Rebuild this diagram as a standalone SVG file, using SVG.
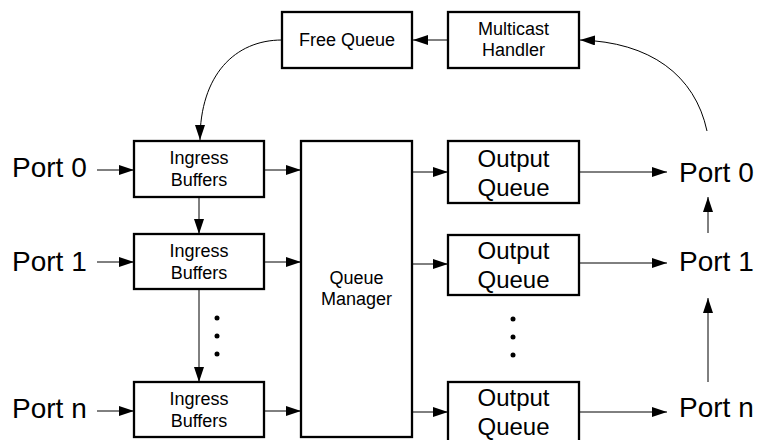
<svg xmlns="http://www.w3.org/2000/svg" width="759" height="440" viewBox="0 0 759 440">
<style>
.box{fill:#fff;stroke:#000;stroke-width:2.3}
.c{fill:none;stroke:#000;stroke-width:1}
text{font-family:"Liberation Sans",Arial,sans-serif;fill:#000}
.s{font-size:18px;text-anchor:middle}
.m{font-size:24px;text-anchor:middle}
.p{font-size:28px}
.dot{fill:#000}
</style>
<defs>
<marker id="ah" markerUnits="userSpaceOnUse" markerWidth="16" markerHeight="11" refX="15" refY="5" orient="auto">
<path d="M0,0 L15,5 L0,10 z" fill="#000"/>
</marker>
</defs>
<rect width="759" height="440" fill="#fff"/>
<g id="connectors">
<path class="c" d="M282,40 C235,40 200,75 200,140" marker-end="url(#ah)"/>
<path class="c" d="M448,40 L413,40" marker-end="url(#ah)"/>
<path class="c" d="M707,131 C695,75 650,42 580,40" marker-end="url(#ah)"/>
<path class="c" d="M97,170 L134,170" marker-end="url(#ah)"/>
<path class="c" d="M97,262 L134,262" marker-end="url(#ah)"/>
<path class="c" d="M97,411 L134,411" marker-end="url(#ah)"/>
<path class="c" d="M264,170 L301,170" marker-end="url(#ah)"/>
<path class="c" d="M264,262 L301,262" marker-end="url(#ah)"/>
<path class="c" d="M264,411 L301,411" marker-end="url(#ah)"/>
<path class="c" d="M199,197 L199,234" marker-end="url(#ah)"/>
<path class="c" d="M199,289 L199,382" marker-end="url(#ah)"/>
<path class="c" d="M412,172 L448,172" marker-end="url(#ah)"/>
<path class="c" d="M412,264 L448,264" marker-end="url(#ah)"/>
<path class="c" d="M412,412 L448,412" marker-end="url(#ah)"/>
<path class="c" d="M579,172 L667,172" marker-end="url(#ah)"/>
<path class="c" d="M579,263 L667,263" marker-end="url(#ah)"/>
<path class="c" d="M579,412 L667,412" marker-end="url(#ah)"/>
<path class="c" d="M708,233 L708,197" marker-end="url(#ah)"/>
<path class="c" d="M708,382 L708,298" marker-end="url(#ah)"/>
</g>
<g id="free-queue">
<rect class="box" x="282" y="12" width="130" height="56"/>
<text class="s" x="347" y="46">Free Queue</text>
</g>
<g id="multicast-handler">
<rect class="box" x="448" y="12" width="131" height="56"/>
<text class="s" x="513.5" y="35">Multicast</text>
<text class="s" x="513.5" y="56">Handler</text>
</g>
<g id="ingress-0">
<rect class="box" x="134" y="141" width="130" height="56"/>
<text class="s" x="199" y="164">Ingress</text>
<text class="s" x="199" y="186">Buffers</text>
</g>
<g id="ingress-1">
<rect class="box" x="134" y="234" width="130" height="55"/>
<text class="s" x="199" y="257">Ingress</text>
<text class="s" x="199" y="279">Buffers</text>
</g>
<g id="ingress-n">
<rect class="box" x="134" y="382" width="130" height="55"/>
<text class="s" x="199" y="405">Ingress</text>
<text class="s" x="199" y="427">Buffers</text>
</g>
<g id="queue-manager">
<rect class="box" x="301" y="141" width="111" height="296"/>
<text class="s" x="356.5" y="284">Queue</text>
<text class="s" x="356.5" y="305">Manager</text>
</g>
<g id="output-0">
<rect class="box" x="448" y="141" width="131" height="62"/>
<text class="m" x="513.5" y="167">Output</text>
<text class="m" x="513.5" y="196">Queue</text>
</g>
<g id="output-1">
<rect class="box" x="448" y="235" width="131" height="60"/>
<text class="m" x="513.5" y="259">Output</text>
<text class="m" x="513.5" y="288">Queue</text>
</g>
<g id="output-n">
<rect class="box" x="448" y="382" width="131" height="62"/>
<text class="m" x="513.5" y="406">Output</text>
<text class="m" x="513.5" y="435">Queue</text>
</g>
<g id="dots-in">
<circle class="dot" cx="217" cy="318" r="2.5"/>
<circle class="dot" cx="217" cy="336" r="2.5"/>
<circle class="dot" cx="217" cy="354" r="2.5"/>
</g>
<g id="dots-out">
<circle class="dot" cx="513" cy="319" r="2.5"/>
<circle class="dot" cx="513" cy="337" r="2.5"/>
<circle class="dot" cx="513" cy="355" r="2.5"/>
</g>
<g id="port-in-0"><text class="p" x="12" y="177">Port 0</text></g>
<g id="port-in-1"><text class="p" x="12" y="271">Port 1</text></g>
<g id="port-in-n"><text class="p" x="12" y="418">Port n</text></g>
<g id="port-out-0"><text class="p" x="679" y="182">Port 0</text></g>
<g id="port-out-1"><text class="p" x="679" y="271">Port 1</text></g>
<g id="port-out-n"><text class="p" x="679" y="417">Port n</text></g>
</svg>
